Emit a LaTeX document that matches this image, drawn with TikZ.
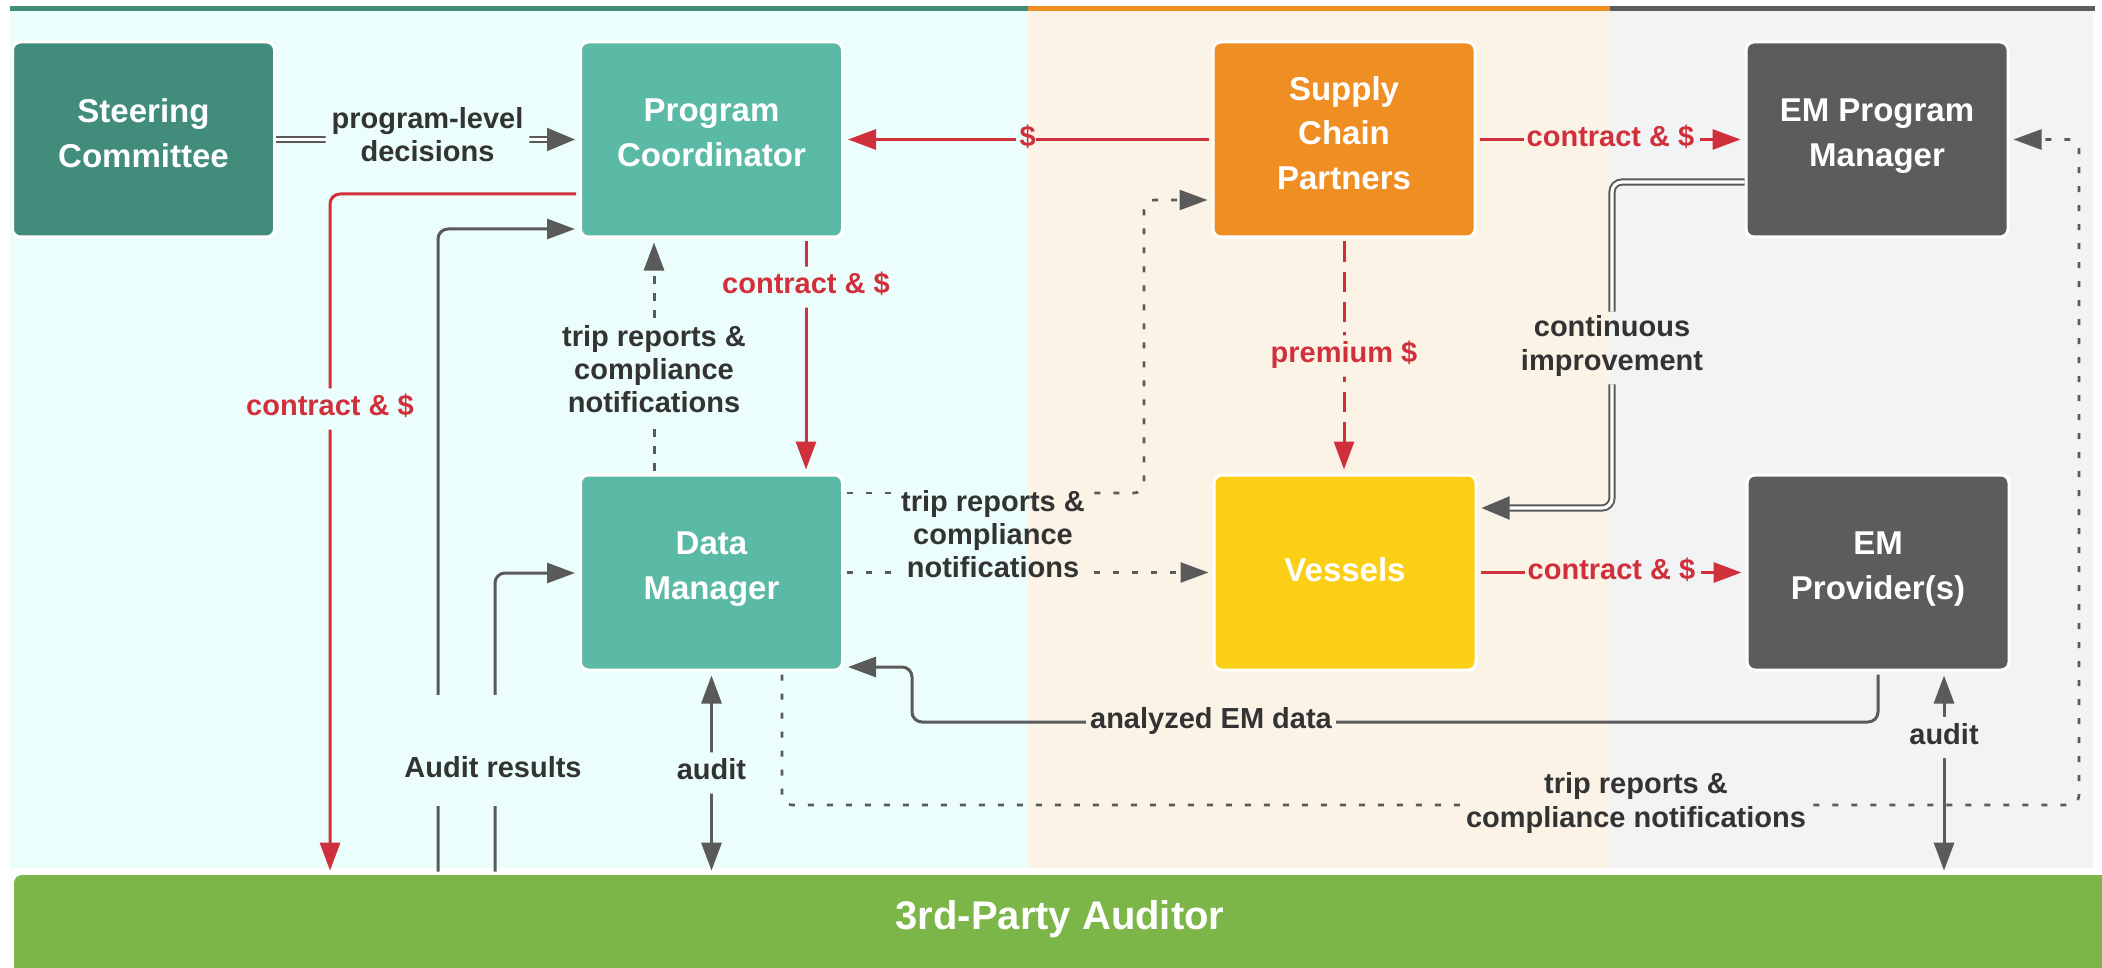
\documentclass[tikz,border=0pt]{standalone}
\usepackage{fontspec}
\setmainfont{Liberation Sans}
\usetikzlibrary{arrows.meta,calc}
\definecolor{cbg}{HTML}{EBFEFB}
\definecolor{obg}{HTML}{FCF3E7}
\definecolor{gbg}{HTML}{F2F3F5}
\definecolor{teal1}{HTML}{428C7C}
\definecolor{teal2}{HTML}{5BBAA6}
\definecolor{orng}{HTML}{EF8E23}
\definecolor{yell}{HTML}{FBCF16}
\definecolor{dgray}{HTML}{5C5C5C}
\definecolor{grn}{HTML}{7CB548}
\definecolor{cred}{HTML}{D0303C}
\definecolor{cgray}{HTML}{5A5A5A}
\definecolor{ltxt}{HTML}{333333}
\newcommand\boxfont{\fontsize{16.5}{22.3}\selectfont\bfseries}
\newcommand\lblfont{\fontsize{14.5}{16.6}\selectfont\bfseries}
\begin{document}
\begin{tikzpicture}[x=0.5pt,y=-0.5pt,
  box/.style={rectangle, rounded corners=4pt, minimum width=131pt, minimum height=97.5pt, draw=white, line width=1.5pt, text=white, font=\boxfont, align=center, inner sep=2pt, execute at begin node=\strut, execute at end node=\strut},
  lbl/.style={font=\lblfont, text=ltxt, align=center, inner sep=1.5pt, execute at begin node=\strut, execute at end node=\strut},
  rlbl/.style={lbl, text=cred},
  gl/.style={draw=cgray, line width=1.5pt, rounded corners=5pt, shorten <=1.5pt},
  rl/.style={draw=cred, line width=1.5pt, rounded corners=5pt, shorten <=1.5pt},
  tip/.style={-{Triangle[length=14pt,width=10pt]}, shorten >=2pt},
  tips/.style={{Triangle[length=14pt,width=10pt]}-{Triangle[length=14pt,width=10pt]}, shorten >=2pt, shorten <=2pt},
  dtip/.style={-{Triangle[length=14pt,width=11.5pt]}, shorten >=2pt},
  dotl/.style={gl, line width=1.3pt, dash pattern=on 3pt off 6.5pt},
  dbl/.style={draw=cgray, line width=1pt, double=white, double distance=1.6pt, rounded corners=5pt},
]
\useasboundingbox (0,0) rectangle (2102,968);
% panels
\fill[cbg] (10,10) rectangle (1028,868);
\fill[obg] (1028,10) rectangle (1610,868);
\fill[gbg] (1610,10) rectangle (2093,868);
\draw[teal1, line width=2.5pt] (10,8.5) -- (1028,8.5);
\draw[orng, line width=2.5pt] (1028,8.5) -- (1610,8.5);
\draw[dgray, line width=2.5pt] (1610,8.5) -- (2095,8.5);

% nodes
\node[box, fill=teal1] (SC) at (143.5,139.5) {Steering\\Committee};
\node[box, fill=teal2] (PC) at (711.5,139.5) {Program\\Coordinator};
\node[box, fill=orng] (SCP) at (1344,139.5) {Supply\\Chain\\Partners};
\node[box, fill=dgray] (EMPM) at (1877,139.5) {EM Program\\Manager};
\node[box, fill=teal2] (DM) at (711.5,572.5) {Data\\Manager};
\node[box, fill=yell] (V) at (1345,572.5) {Vessels};
\node[box, fill=dgray] (EMP) at (1878,572.5) {EM\\Provider(s)};
\node[fill=grn, minimum width=1048pt, minimum height=50pt, rounded corners=4pt, inner sep=0pt] (AUD) at (1062,925) {};
\node[font=\fontsize{20}{24}\selectfont\bfseries, text=white] (AUDt) at (1060,919) {3rd-Party Auditor};

% SC -> PC
\draw[dbl, dtip] (SC) -- node[lbl, fill=cbg, inner xsep=3pt]{program-level\\decisions} (PC);

% SCP -> PC ($)
\node[rlbl, inner sep=0pt] (ld) at ($(SCP.west)!0.5!(PC.east)$) {\$};
\draw[rl] (SCP.west) -- (ld.east);
\draw[rl, tip] (ld.west) -- (PC.east);

% SCP -> EMPM
\node[rlbl, inner xsep=1pt, inner ysep=0pt] (lc1) at ($(SCP.east)!0.5!(EMPM.west)$) {contract \& \$};
\draw[rl] (SCP.east) -- (lc1.west);
\draw[rl, tip] (lc1.east) -- (EMPM.west);

% EMPM -> Vessels (continuous improvement)
\node[lbl, inner sep=2pt] (lci) at (1612,348) {continuous\\improvement};
\draw[dbl] (EMPM.west |- 0,182) -| (lci.north);
\draw[dbl, dtip] (lci.south) |- (V.east |- 0,508);

% PC -> DM
\draw[rl, tip] (PC.south -| 806,0) -- node[rlbl, fill=cbg, pos=0.207, inner ysep=2pt]{contract \& \$} (DM.north -| 806,0);

% DM -> PC
\draw[gl, dash pattern=on 4pt off 4.5pt, tip] (DM.north -| 654,0) -- node[lbl, fill=cbg, pos=0.423, inner ysep=2pt]{trip reports \&\\compliance\\notifications} (PC.south -| 654,0);

% PC -> Auditor
\draw[rl, tip] (PC.west |- 0,194) -| node[rlbl, fill=cbg, pos=0.658, inner ysep=2pt]{contract \& \$} (AUD.north -| 330,0);

% Auditor -> PC, Auditor -> DM
\draw[gl, tip] (AUD.north -| 438,0) |- (PC.west |- 0,229);
\draw[gl, tip] (AUD.north -| 495,0) |- (DM.west |- 0,573);
\node[lbl, fill=cbg, inner sep=0pt, text height=41pt, text depth=14.5pt, anchor=base] (lar) at (493,777) {Audit results};

% DM <-> Auditor
\draw[gl, tips] (DM.south) -- node[lbl, fill=cbg, inner ysep=2pt]{audit} (AUD.north -| DM.south);

% DM -> SCP and DM -> Vessels (dotted)
\node[lbl, inner sep=3pt] (ltr1) at (993,539) {trip reports \&\\compliance\\notifications};
\draw[dotl] (DM.east |- 0,493) -- (ltr1.west |- 0,493);
\draw[dotl, tip] (ltr1.east |- 0,493) -| (1144,200) -- (SCP.west |- 0,200);
\draw[dotl] (DM.east) -- (ltr1.west |- DM.east);
\draw[dotl, tip] (ltr1.east |- DM.east) -- (V.west);

% SCP -> Vessels premium
\draw[rl, dash pattern=on 10pt off 5pt, tip] (SCP.south) -- node[rlbl, fill=obg, inner ysep=2pt]{premium \$} (V.north -| SCP.south);

% Vessels -> EMP
\node[rlbl, inner xsep=1pt, inner ysep=0pt] (lc2) at ($(V.east)!0.5!(EMP.west)$) {contract \& \$};
\draw[rl] (V.east) -- (lc2.west);
\draw[rl, tip] (lc2.east) -- (EMP.west);

% EMP -> DM analyzed EM data
\draw[gl, tip] (EMP.south) |- (912,722) |- (DM.east |- 0,667);
\node[lbl, fill=obg, inner sep=2pt] (lem) at (1211,722) {analyzed EM data};

% EMP <-> Auditor
\draw[gl, tips] (EMP.south -| 1944,0) -- node[lbl, fill=gbg, pos=0.325, inner ysep=2pt]{audit} (AUD.north -| 1944,0);

% DM -> EMPM dotted (bottom)
\node[lbl, inner sep=2pt] (ltr2) at (1636,805) {trip reports \&\\compliance notifications};
\draw[dotl] (DM.south -| 782,0) |- (ltr2.west);
\draw[dotl, tip] (ltr2.east) -| (EMPM.east -| 2079,0) -- (EMPM.east);
\end{tikzpicture}
\end{document}
